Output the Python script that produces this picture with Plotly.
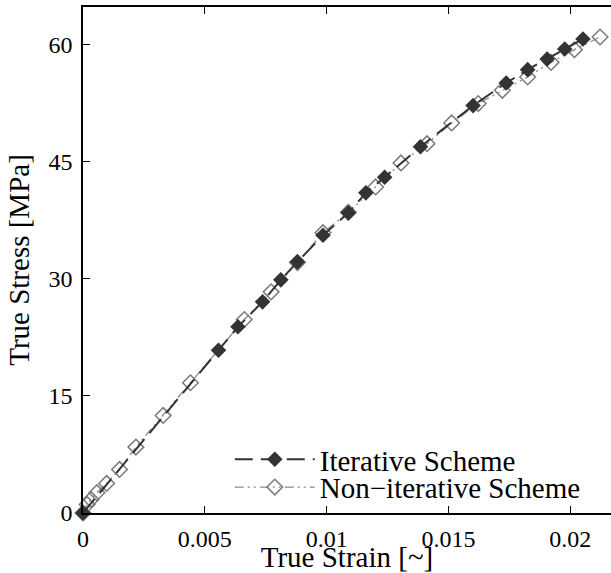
import plotly.graph_objects as go

# Iterative scheme (filled diamonds)
iter_strain = [0.0, 0.00556, 0.00636, 0.00737, 0.00812, 0.00880, 0.00985, 0.01089,
               0.01161, 0.01238, 0.01385, 0.01601, 0.01737, 0.01825, 0.01905, 0.01977, 0.02052]
iter_stress = [0.0, 20.85, 23.85, 27.04, 29.86, 32.16, 35.57, 38.44,
               41.0, 43.0, 46.9, 52.17, 55.07, 56.78, 58.15, 59.43, 60.7]

# Non-iterative scheme (open diamonds)
non_strain = [0.0, 0.00017, 0.00033, 0.00057, 0.00097, 0.0015, 0.00217, 0.00329, 0.00441,
              0.00662, 0.00772, 0.0088, 0.00985, 0.01089, 0.01201, 0.01305, 0.01412, 0.01513,
              0.01622, 0.01721, 0.01825, 0.01921, 0.02017, 0.02122]
non_stress = [0.0, 1.1, 1.74, 2.6, 3.79, 5.58, 8.44, 12.49, 16.68,
              24.78, 28.32, 32.07, 35.9, 38.5, 41.76, 44.83, 47.3, 49.95,
              52.43, 54.13, 55.84, 57.71, 59.34, 60.96]

x_ticks = [0, 0.005, 0.01, 0.015, 0.02]
x_ticklabels = ["0", "0.005", "0.01", "0.015", "0.02"]
y_ticks = [0, 15, 30, 45, 60]
y_ticklabels = ["0", "15", "30", "45", "60"]

FONT = "'Liberation Serif', 'Times New Roman', Times, serif"

fig = go.Figure()
fig.add_trace(go.Scatter(
    x=non_strain, y=non_stress, mode="lines+markers",
    name="Non\u2212iterative Scheme", legend="legend2",
    line=dict(color="#8a8a8a", width=1.3, dash="9px,4px,2px,4px,2px,4px"),
    marker=dict(symbol="diamond-open", size=12, color="#7a7a7a", line=dict(width=1.5, color="#7a7a7a")),
    cliponaxis=False,
))
fig.add_trace(go.Scatter(
    x=iter_strain, y=iter_stress, mode="lines+markers",
    name="Iterative Scheme", legend="legend",
    line=dict(color="#333333", width=2, dash="18px,8px"),
    marker=dict(symbol="diamond", size=12, color="#333333"),
    cliponaxis=False,
))

fig.update_layout(
    width=611, height=573,
    margin=dict(l=83, r=0, t=7, b=60),
    plot_bgcolor="white", paper_bgcolor="white",
    font=dict(family=FONT, color="black", size=24),
    showlegend=True,
    legend=dict(x=0.278, y=0.106, xanchor="left", yanchor="middle",
                bgcolor="rgba(0,0,0,0)", font=dict(size=29, family=FONT), itemwidth=80),
    legend2=dict(x=0.278, y=0.051, xanchor="left", yanchor="middle",
                 bgcolor="rgba(0,0,0,0)", font=dict(size=29, family=FONT), itemwidth=80),
)
fig.update_xaxes(
    range=[0, 0.02167], tickvals=x_ticks, ticktext=x_ticklabels,
    ticks="inside", ticklen=7, tickwidth=1, tickcolor="black",
    showline=True, linecolor="black", linewidth=1.5, mirror="ticks",
    showgrid=False, zeroline=False,
    title=dict(text="True Strain [~]", font=dict(size=29, family=FONT), standoff=0),
    tickfont=dict(size=24, family=FONT), ticklabelstandoff=3,
)
fig.update_yaxes(
    range=[0, 64.8], tickvals=y_ticks, ticktext=y_ticklabels,
    ticks="inside", ticklen=7, tickwidth=1, tickcolor="black",
    showline=True, linecolor="black", linewidth=1.5, mirror=False,
    showgrid=False, zeroline=False,
    title=dict(text="True Stress [MPa]", font=dict(size=29, family=FONT), standoff=10),
    tickfont=dict(size=24, family=FONT), ticklabelstandoff=4,
)
fig.write_html("out.html")
